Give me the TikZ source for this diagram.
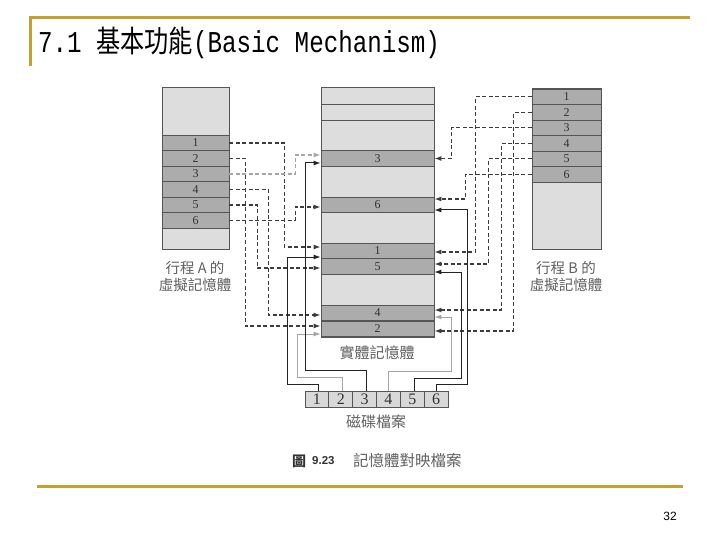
\documentclass[tikz,border=0pt]{standalone}
\usepackage{fontspec}
\usepackage{graphicx}
\usetikzlibrary{arrows.meta}
\setmainfont{Liberation Serif}
\newfontfamily\cjk{Noto Sans CJK TC}
\newfontfamily\monof{Liberation Mono}
\newfontfamily\sansf{Liberation Sans}
\definecolor{gold}{RGB}{196,160,48}
\definecolor{lightfill}{RGB}{221,221,221}
\definecolor{darkfill}{RGB}{172,172,172}
\definecolor{diskfill}{RGB}{216,216,216}
\definecolor{bordercol}{RGB}{85,85,85}
\definecolor{numcol}{RGB}{50,50,50}
\definecolor{dashcol}{RGB}{60,60,60}
\definecolor{lightdash}{RGB}{165,165,165}
\definecolor{solidcol}{RGB}{35,35,35}
\definecolor{labelcol}{RGB}{95,95,95}
\tikzset{
  dl/.style={draw=dashcol, line width=1.2pt, dash pattern=on 4pt off 2.5pt, -{Latex[length=7pt,width=5pt]}},
  dlg/.style={dl, draw=lightdash},
  sl/.style={draw=solidcol, line width=1pt, -{Latex[length=7pt,width=5pt]}},
  slg/.style={sl, draw=lightdash},
  vrow/.style={draw=bordercol, line width=0.8pt, fill=darkfill, inner sep=0pt, minimum height=15.5pt, text=numcol, font=\fontsize{12}{12}\selectfont},
  arow/.style={vrow, minimum width=67pt},
  brow/.style={vrow, minimum width=69pt},
  pframe/.style={vrow, minimum width=113pt},
  dcell/.style={draw=bordercol, line width=0.8pt, fill=diskfill, inner sep=0pt, minimum width=23.83pt, minimum height=16pt, text=numcol, font=\fontsize{16}{16}\selectfont},
  lbl/.style={text=labelcol, font=\cjk\fontsize{14.5}{15}\selectfont, inner sep=0pt},
  goldline/.style={draw=gold, line width=3pt}
}
\begin{document}
\begin{tikzpicture}[x=1pt,y=-1pt]
\useasboundingbox (0,0) rectangle (720,540);
% header / footer rules
\draw[goldline] (30,18) -- (690,18);
\draw[goldline] (30,16.5) -- (30,66);
\draw[goldline] (37,486) -- (683,486);
\node[anchor=west, inner sep=0pt] (title) at (38,43) {\scalebox{1}[1.25]{\fontsize{24.2}{28}\selectfont\monof 7.1 {\cjk 基本功能}(Basic Mechanism)}};
\node[inner sep=0pt, font=\sansf\fontsize{12}{12}\selectfont] (pagenum) at (670,516) {32};

% process A virtual memory
\draw[draw=bordercol, line width=1pt, fill=lightfill] (162,88) rectangle (229,249);
\node[arow] (A1) at (195.5,143) {1};
\node[arow] (A2) at (195.5,158.5) {2};
\node[arow] (A3) at (195.5,174) {3};
\node[arow] (A4) at (195.5,189.5) {4};
\node[arow] (A5) at (195.5,205) {5};
\node[arow] (A6) at (195.5,220.5) {6};
\node[lbl] (la1) at (195,268) {行程 A 的};
\node[lbl] (la2) at (195,285) {虛擬記憶體};

% physical memory
\draw[draw=bordercol, line width=1pt, fill=lightfill] (321,88) rectangle (434,337);
\draw[draw=bordercol, line width=0.8pt] (321,104) -- (434,104);
\draw[draw=bordercol, line width=0.8pt] (321,120) -- (434,120);
\node[pframe] (P3) at (377.5,158.5) {3};
\node[pframe] (P6) at (377.5,204.75) {6};
\node[pframe] (P1) at (377.5,251) {1};
\node[pframe] (P5) at (377.5,266.5) {5};
\node[pframe] (P4) at (377.5,313) {4};
\node[pframe] (P2) at (377.5,329) {2};
\node[lbl, font=\cjk\fontsize{15}{15}\selectfont] (lp) at (377,353) {實體記憶體};

% process B virtual memory
\draw[draw=bordercol, line width=1pt, fill=lightfill] (532,89) rectangle (601,249);
\node[brow] (B1) at (566.5,96.75) {1};
\node[brow] (B2) at (566.5,112.25) {2};
\node[brow] (B3) at (566.5,127.75) {3};
\node[brow] (B4) at (566.5,143.25) {4};
\node[brow] (B5) at (566.5,158.75) {5};
\node[brow] (B6) at (566.5,174.25) {6};
\node[lbl] (lb1) at (566,268) {行程 B 的};
\node[lbl] (lb2) at (566,285) {虛擬記憶體};

% disk file
\node[dcell] (D1) at (316.9,399) {1};
\node[dcell] (D2) at (340.75,399) {2};
\node[dcell] (D3) at (364.6,399) {3};
\node[dcell] (D4) at (388.4,399) {4};
\node[dcell] (D5) at (412.25,399) {5};
\node[dcell] (D6) at (436.1,399) {6};
\node[lbl, font=\cjk\fontsize{15}{15}\selectfont] (ld) at (376,422) {磁碟檔案};

% caption
\node[anchor=west, inner sep=0pt, font=\cjk\bfseries\fontsize{14}{14}\selectfont, text=numcol] (cap1) at (292,461) {圖};
\node[anchor=west, inner sep=0pt, font=\sansf\bfseries\fontsize{11.5}{12}\selectfont, text=numcol] (cap2) at (312,461) {9.23};
\node[anchor=west, inner sep=0pt, font=\cjk\fontsize{15.5}{16}\selectfont, text=labelcol] (cap3) at (353,461) {記憶體對映檔案};

% process A mappings (dashed)
\draw[dl]  (A1.east) -- ++(55,0) |- ([yshift=4pt]P1.west);
\draw[dl]  (A2.east) -- ++(16,0) |- ([yshift=3pt]P2.west);
\draw[dlg] (A3.east) -- ++(66,0) |- ([yshift=3.5pt]P3.west);
\draw[dl]  (A4.east) -- ++(39,0) |- ([yshift=-2pt]P4.west);
\draw[dl]  (A5.east) -- ++(28,0) |- ([yshift=-1.5pt]P5.west);
\draw[dl]  (A6.east) -- ++(66,0) |- ([yshift=-2.25pt]P6.west);

% process B mappings (dashed)
\draw[dl]  (B1.west) -- ++(-56,0) |- ([yshift=-1pt]P1.east);
\draw[dl]  (B2.west) -- ++(-18,0) |- ([yshift=-2pt]P2.east);
\draw[dl]  (B3.west) -- ++(-80,0) |- (P3.east);
\draw[dl]  (B4.west) -- ++(-30,0) |- ([yshift=3pt]P4.east);
\draw[dl]  (B5.west) -- ++(-43,0) |- ([yshift=2.5pt]P5.east);
\draw[dl]  (B6.west) -- ++(-66,0) |- ([yshift=5.75pt]P6.east);

% disk blocks to frames (solid)
\draw[sl]  ([xshift=2pt]D1.north) -- ++(0,-6) -| ([xshift=-33pt,yshift=-6pt]P1.west) -- ([yshift=-6pt]P1.west);
\draw[slg] ([xshift=2pt]D2.north) -- ++(0,-13) -| ([xshift=-23pt,yshift=-5pt]P2.west) -- ([yshift=-5pt]P2.west);
\draw[sl]  ([xshift=1.5pt]D3.north) -- ++(0,-20) -| ([xshift=-15pt,yshift=-4.5pt]P3.west) -- ([yshift=-4.5pt]P3.west);
\draw[slg] ([xshift=0.5pt]D4.north) -- ++(0,-19) -| ([xshift=17pt,yshift=-4pt]P4.east) -- ([yshift=-4pt]P4.east);
\draw[sl]  ([xshift=1.75pt]D5.north) -- ++(0,-12) -| ([xshift=27pt,yshift=-5.5pt]P5.east) -- ([yshift=-5.5pt]P5.east);
\draw[sl]  (D6.north) -- ++(0,-6) -| ([xshift=33pt,yshift=-5.25pt]P6.east) -- ([yshift=-5.25pt]P6.east);
\end{tikzpicture}
\end{document}
